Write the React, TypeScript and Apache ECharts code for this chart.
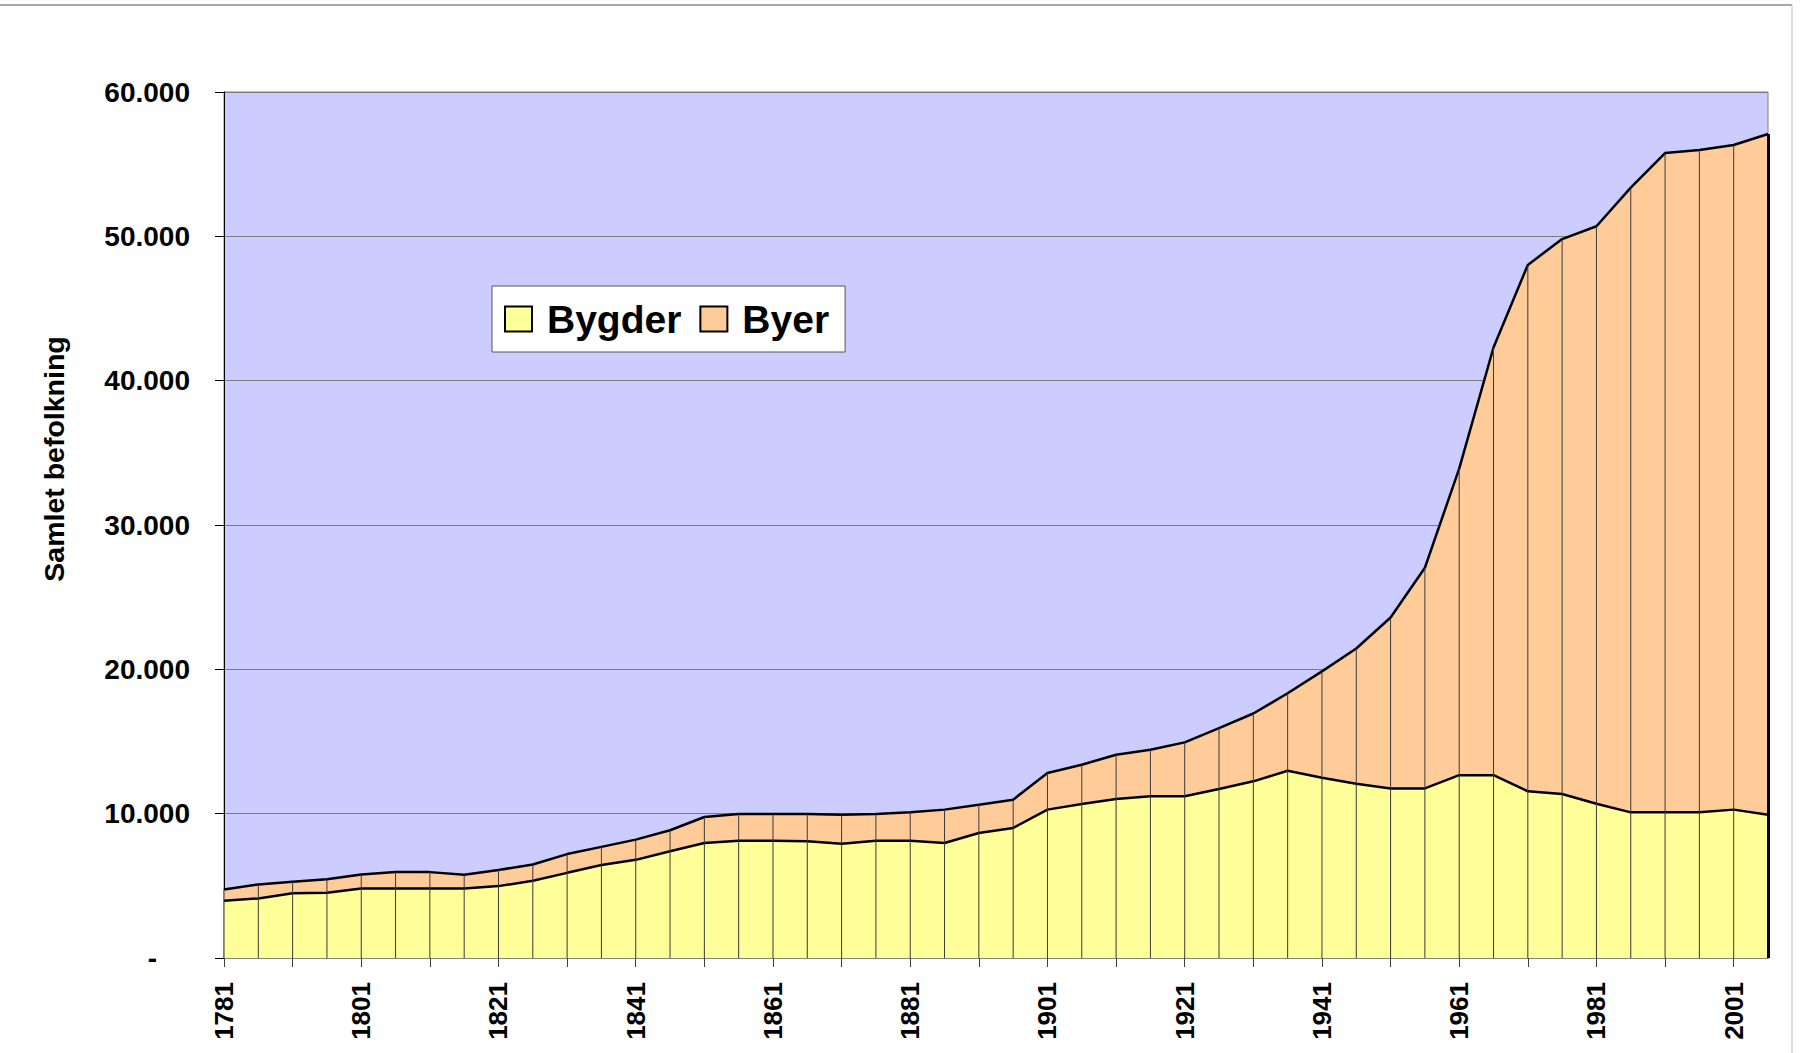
import React, { useEffect, useRef } from "react";
import * as echarts from "echarts";

const years = [
  1781, 1786, 1791, 1796, 1801, 1806, 1811, 1816, 1821, 1826, 1831, 1836,
  1841, 1846, 1851, 1856, 1861, 1866, 1871, 1876, 1881, 1886, 1891, 1896,
  1901, 1906, 1911, 1916, 1921, 1926, 1931, 1936, 1941, 1946, 1951, 1956,
  1961, 1966, 1971, 1976, 1981, 1986, 1991, 1996, 2001, 2006,
];

const bygder = [
  3970, 4130, 4480, 4520, 4820, 4820, 4820, 4820, 4980, 5350, 5900, 6440,
  6800, 7390, 7970, 8130, 8130, 8090, 7920, 8130, 8130, 7970, 8660, 9010,
  10280, 10670, 11010, 11200, 11200, 11710, 12240, 12970, 12490, 12080, 11750, 11750,
  12670, 12670, 11550, 11360, 10690, 10090, 10090, 10090, 10280, 9930,
];

const byer = [
  780, 970, 800, 930, 970, 1130, 1130, 950, 1120, 1130, 1300, 1260,
  1400, 1460, 1800, 1850, 1850, 1890, 2010, 1850, 1960, 2310, 1960, 1960,
  2540, 2720, 3070, 3230, 3740, 4220, 4700, 5370, 7370, 9360, 11840, 15290,
  21230, 29630, 36470, 38450, 40010, 43280, 45680, 45890, 46050, 47160,
];

const yTicks = [0, 10000, 20000, 30000, 40000, 50000, 60000];

const seriesNames = ["Bygder", "Byer"];
const yTitle = "Samlet befolkning";

const FONT = '"Liberation Sans", Arial, Helvetica, sans-serif';

export default function App() {
  const ref = useRef<HTMLDivElement>(null);

  useEffect(() => {
    if (!ref.current) return;
    const chart = echarts.init(ref.current, undefined, { renderer: "svg" });
    const totals = bygder.map((v, i) => v + byer[i]);
    const last = years.length - 1;

    const option = {
      animation: false,
      backgroundColor: "#ffffff",
      textStyle: { fontFamily: FONT },
      grid: {
        left: 224,
        right: 33,
        top: 92,
        bottom: 95,
        show: true,
        backgroundColor: "#CCCCFF",
        borderColor: "#808080",
        borderWidth: 1,
      },
      legend: {
        left: 492,
        top: 286,
        orient: "horizontal",
        icon: "rect",
        itemWidth: 27,
        itemHeight: 25,
        itemGap: 18,
        backgroundColor: "#ffffff",
        borderColor: "#555555",
        borderWidth: 1,
        padding: [10, 16, 10, 12],
        selectedMode: false,
        textStyle: {
          fontFamily: FONT,
          fontSize: 39,
          fontWeight: "bold",
          color: "#000",
          padding: [0, 0, 0, 10],
          lineHeight: 46,
        },
        data: [
          {
            name: seriesNames[0],
            itemStyle: { color: "#FFFF99", borderColor: "#000", borderWidth: 2 },
          },
          {
            name: seriesNames[1],
            itemStyle: { color: "#FFCC99", borderColor: "#000", borderWidth: 2 },
          },
        ],
      },
      xAxis: {
        type: "category",
        data: years.map(String),
        boundaryGap: false,
        axisLine: { show: true, lineStyle: { color: "#808080", width: 2 } },
        axisTick: {
          show: true,
          interval: 1,
          length: 9,
          lineStyle: { color: "#404040", width: 1 },
        },
        axisLabel: {
          interval: 3,
          rotate: 90,
          margin: 24,
          fontSize: 26,
          fontWeight: "bold",
          color: "#000",
          fontFamily: FONT,
        },
        splitLine: { show: false },
      },
      yAxis: {
        type: "value",
        min: yTicks[0],
        max: yTicks[yTicks.length - 1],
        interval: yTicks[1] - yTicks[0],
        axisLine: { show: true, lineStyle: { color: "#000", width: 1 } },
        axisTick: { show: true, length: 9, lineStyle: { color: "#000" } },
        axisLabel: {
          margin: 34,
          fontSize: 28,
          fontWeight: "bold",
          color: "#000",
          fontFamily: FONT,
          formatter: (v: number) =>
            v === 0 ? "{d|-}" : `${Math.round(v / 1000)}.000`,
          rich: {
            d: {
              fontSize: 28,
              fontWeight: "bold",
              color: "#000",
              fontFamily: FONT,
              padding: [0, 33, 0, 0],
            },
          },
        },
        splitLine: { show: true, lineStyle: { color: "#7a7a7a", width: 1 } },
      },
      series: [
        {
          name: seriesNames[0],
          type: "line",
          stack: "pop",
          data: bygder,
          showSymbol: false,
          symbol: "none",
          z: 3,
          itemStyle: { color: "#FFFF99" },
          lineStyle: { color: "#000", width: 2.5 },
          areaStyle: { color: "#FFFF99", opacity: 1 },
          silent: true,
        },
        {
          name: seriesNames[1],
          type: "line",
          stack: "pop",
          data: byer,
          showSymbol: false,
          symbol: "none",
          z: 2,
          itemStyle: { color: "#FFCC99" },
          lineStyle: { color: "#000", width: 2.5 },
          areaStyle: { color: "#FFCC99", opacity: 1 },
          silent: true,
          markLine: {
            silent: true,
            symbol: "none",
            label: { show: false },
            lineStyle: { color: "#000", width: 3, type: "solid" },
            data: [
              [
                { coord: [last, 0] },
                { coord: [last, totals[last]] },
              ],
            ],
          },
        },
        {
          name: "drop",
          type: "bar",
          data: totals,
          barWidth: 1,
          z: 4,
          silent: true,
          itemStyle: { color: "#3a3a3a" },
        },
      ],
      graphic: [
        {
          type: "text",
          x: 54,
          y: 459,
          rotation: Math.PI / 2,
          style: {
            text: yTitle,
            fontFamily: FONT,
            fontSize: 28.5,
            fontWeight: "bold",
            fill: "#000",
            align: "center",
            verticalAlign: "middle",
          },
        },
        {
          type: "line",
          shape: { x1: 0, y1: 5, x2: 1792, y2: 5 },
          style: { stroke: "#a8a8a8", lineWidth: 2 },
        },
        {
          type: "line",
          shape: { x1: 1792, y1: 5, x2: 1792, y2: 1053 },
          style: { stroke: "#c0c0c0", lineWidth: 1 },
        },
      ],
    };

    chart.setOption(option as any);
    return () => chart.dispose();
  }, []);

  return (
    <div
      ref={ref}
      style={{ position: "fixed", left: 0, top: 0, width: 1801, height: 1053 }}
    />
  );
}
